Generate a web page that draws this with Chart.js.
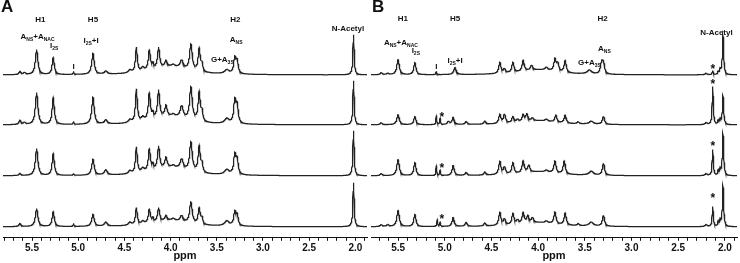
<!DOCTYPE html>
<html><head><meta charset="utf-8">
<script src="https://cdn.jsdelivr.net/npm/chart.js@4.4.0/dist/chart.umd.min.js"></script>
<style>
html,body{margin:0;padding:0;background:#fff;}
#wrap{position:relative;width:740px;height:263px;overflow:hidden;}
.panel{position:absolute;top:0;width:370px;height:263px;}
.letter{position:absolute;top:-3px;font:bold 17px "Liberation Sans",Arial,sans-serif;color:#111;}
</style></head>
<body>
<div id="wrap">
<canvas id="ca" class="panel" width="370" height="263" style="left:0"></canvas>
<canvas id="cb" class="panel" width="370" height="263" style="left:370px"></canvas>
<div class="letter" style="left:1px">A</div>
<div class="letter" style="left:372px">B</div>
</div>
<script>
// ---- data: peak lists [ppm, intensity, half-width(ppm)] ----
const tickLabels = ['5.5','5.0','4.5','4.0','3.5','3.0','2.5','2.0'];
const axisTitle = 'ppm';

const specA1 = [[5.63,3],[5.58,2],[5.45,25,0.016],[5.27,17],[5.05,3,0.005],[4.84,21,0.016],[4.70,3,0.02],
  [4.44,3,0.02],[4.37,25,0.012],[4.30,4,0.02],[4.23,20],[4.19,5,0.01],[4.13,21],[4.05,6,0.015],[3.97,2,0.02],
  [3.88,8,0.02],[3.78,26,0.017],[3.69,23],[3.66,7,0.01],[3.39,4,0.03],[3.305,15],[3.28,12],[4.0,8,0.22],[2.02,40,0.008]];
const specA2 = [[5.63,4],[5.58,2],[5.45,32,0.016],[5.27,27],[5.05,3,0.005],[4.84,27,0.016],[4.70,4,0.02],
  [4.44,3,0.02],[4.37,33,0.012],[4.30,4,0.02],[4.23,27],[4.19,5,0.01],[4.13,28],[4.05,11,0.015],[3.97,2,0.02],
  [3.88,12,0.02],[3.78,33,0.017],[3.69,29],[3.66,9,0.01],[3.39,5,0.03],[3.305,22],[3.28,17],[4.0,8,0.22],[2.02,44,0.008]];
const specA3 = [[5.63,2],[5.45,27,0.016],[5.27,22],[5.05,2,0.005],[4.84,16,0.016],[4.70,5,0.02],
  [4.44,3,0.02],[4.37,26,0.012],[4.30,4,0.02],[4.23,22],[4.19,5,0.01],[4.13,23],[4.05,10,0.015],[3.97,2,0.02],
  [3.88,10,0.02],[3.78,29,0.017],[3.69,26],[3.66,8,0.01],[3.39,5,0.03],[3.305,19],[3.28,14],[4.0,8,0.22],[2.02,45,0.008]];
const specA4 = [[5.63,3],[5.45,18,0.016],[5.27,15],[5.05,3,0.005],[4.84,12,0.016],[4.70,4,0.02],
  [4.44,3,0.02],[4.37,17,0.012],[4.30,3,0.02],[4.23,14],[4.19,4,0.01],[4.13,14],[4.05,5,0.015],[3.97,2,0.02],
  [3.88,6,0.02],[3.78,21,0.017],[3.69,16],[3.66,6,0.01],[3.39,5,0.03],[3.305,13],[3.28,10],[4.0,6,0.22],[2.02,44,0.008]];

const specB1 = [[5.68,2],[5.61,1.5],[5.50,15,0.016],[5.32,12],[5.09,3,0.005],[4.89,7,0.016],
  [4.41,11],[4.36,4],[4.27,10],[4.16,11],[4.07,5],[3.91,3,0.02],[3.82,12],[3.79,8],[3.71,12],[3.45,4,0.03],
  [3.32,11],[3.30,10],[4.0,5,0.24],[2.20,1.5],[2.13,4,0.006],[2.07,3,0.006],[2.05,5,0.006],[2.02,40,0.008]];
const specB2 = [[5.68,2],[5.50,10,0.016],[5.32,8],[5.09,9,0.005],[5.05,6,0.005],[4.96,3],[4.91,7],[4.77,3],[4.57,3],
  [4.41,9],[4.36,9],[4.27,6],[4.22,3],[4.16,7],[4.12,7],[4.06,3],[3.91,2,0.02],[3.81,7],[3.71,8],[3.57,2],[3.43,3,0.03],
  [3.30,8],[4.0,4,0.24],[2.20,2],[2.13,38,0.007],[2.07,4,0.006],[2.05,5,0.006],[2.02,29,0.008]];
const specB3 = [[5.68,2],[5.50,16,0.016],[5.32,13],[5.09,10,0.005],[5.05,5,0.005],[4.91,10],[4.77,3],[4.57,3],
  [4.41,13],[4.36,7],[4.27,11],[4.16,12],[4.10,7],[3.91,2,0.02],[3.82,12],[3.72,13],[3.43,4,0.03],
  [3.30,12],[4.0,4,0.24],[2.20,2],[2.13,26,0.007],[2.07,5,0.006],[2.05,6,0.006],[2.02,42,0.008]];
const specB4 = [[5.68,2],[5.61,2],[5.50,16,0.016],[5.32,12],[5.08,7,0.005],[5.05,4,0.005],[4.91,9],[4.77,4],[4.57,3],
  [4.41,13],[4.36,6],[4.27,11],[4.22,4],[4.16,11],[4.11,7],[4.06,5],[3.91,2,0.02],[3.82,12],[3.71,12],[3.57,2],[3.43,4,0.03],
  [3.30,11],[4.0,4,0.24],[2.20,2],[2.13,20,0.007],[2.07,5,0.006],[2.05,6,0.006],[2.02,41,0.008]];

// ---- rendering ----
const FONT = '"Liberation Sans", Arial, sans-serif';
const OFFSETS = [163, 113, 62, 11];   // vertical stacking of the four traces
const STEP = 0.002;

function spectrum(peaks, offset, lo, hi){
  const pts = [];
  for (let i = 0, p = hi; p >= lo; i++, p = hi - i*STEP){
    let y = 0;
    for (const pk of peaks){ const w = pk[2] || 0.014; const d = (p - pk[0]) / w; y += pk[1] / (1 + d*d); }
    pts.push({x: p, y: y + offset});
  }
  return pts;
}

function drawRich(ctx, parts, x, y, size){
  const sub = Math.round(size*0.62);
  let total = 0;
  for (const [t, s] of parts){ ctx.font = 'bold ' + (s ? sub : size) + 'px ' + FONT; total += ctx.measureText(t).width; }
  let cx = x - total/2;
  ctx.textAlign = 'left'; ctx.textBaseline = 'middle'; ctx.fillStyle = '#111';
  for (const [t, s] of parts){
    ctx.font = 'bold ' + (s ? sub : size) + 'px ' + FONT;
    ctx.fillText(t, cx, s ? y + size*0.38 : y);
    cx += ctx.measureText(t).width;
  }
}

const annotPlugin = {
  id: 'annot',
  afterDatasetsDraw(chart, args, opts){
    const {ctx, scales} = chart;
    ctx.save();
    for (const a of opts.items){
      drawRich(ctx, a.parts, scales.x.getPixelForValue(a.ppm), scales.y.getPixelForValue(a.y), a.size || 8);
    }
    ctx.restore();
  }
};

function makeChart(id, specs, lo, hi, items, padL, padR){
  new Chart(document.getElementById(id), {
    type: 'line',
    data: { datasets: specs.map((pk, i) => ({
      data: spectrum(pk, OFFSETS[i], lo, hi),
      borderColor: '#222', borderWidth: 1.25, pointRadius: 0, fill: false, tension: 0
    })) },
    options: {
      responsive: false, animation: false, events: [],
      layout: { padding: { left: padL, right: padR, top: 0, bottom: 0 } },
      plugins: { legend: { display: false }, tooltip: { enabled: false }, annot: { items } },
      scales: {
        x: {
          type: 'linear', reverse: true, min: lo, max: hi,
          border: { color: '#111', width: 1 },
          grid: { drawOnChartArea: false, drawTicks: true, tickLength: 3, color: '#111' },
          ticks: {
            stepSize: 0.1, autoSkip: false, maxRotation: 0, includeBounds: false, padding: 1,
            color: '#111', font: { family: FONT, size: 10, weight: 'bold' },
            callback: (v) => { const s = (Math.round(v*10)/10).toFixed(1); return tickLabels.includes(s) && Math.abs(v*10 - Math.round(v*10)) < 1e-6 ? s : ''; }
          },
          title: { display: true, text: axisTitle, color: '#111', padding: { top: -5, bottom: 0 },
                   font: { family: FONT, size: 11, weight: 'bold' } }
        },
        y: { display: false, min: 0, max: 238 }
      }
    },
    plugins: [annotPlugin]
  });
}

const itemsA = [
  {ppm: 5.41, y: 218, parts: [['H1',0]]},
  {ppm: 4.84, y: 218, parts: [['H5',0]]},
  {ppm: 3.30, y: 218, parts: [['H2',0]]},
  {ppm: 5.44, y: 201, parts: [['A',0],['NS',1],['+A',0],['NAC',1]]},
  {ppm: 5.26, y: 192, parts: [['I',0],['2S',1]]},
  {ppm: 5.05, y: 171, parts: [['I',0]]},
  {ppm: 4.86, y: 197, parts: [['I',0],['2S',1],['+I',0]]},
  {ppm: 3.44, y: 178, parts: [['G+A',0],['3S',1]]},
  {ppm: 3.29, y: 198, parts: [['A',0],['NS',1]]},
  {ppm: 2.08, y: 209, parts: [['N-Acetyl',0]]}
];
const itemsB = [
  {ppm: 5.45, y: 219, parts: [['H1',0]]},
  {ppm: 4.89, y: 219, parts: [['H5',0]]},
  {ppm: 3.31, y: 219, parts: [['H2',0]]},
  {ppm: 5.47, y: 195, parts: [['A',0],['NS',1],['+A',0],['NAC',1]]},
  {ppm: 5.31, y: 187, parts: [['I',0],['2S',1]]},
  {ppm: 5.09, y: 171, parts: [['I',0]]},
  {ppm: 4.89, y: 177, parts: [['I',0],['2S',1],['+I',0]]},
  {ppm: 3.45, y: 175, parts: [['G+A',0],['3S',1]]},
  {ppm: 3.29, y: 189, parts: [['A',0],['NS',1]]},
  {ppm: 2.09, y: 205, parts: [['N-Acetyl',0]]},
  {ppm: 2.13, y: 168, parts: [['*',0]], size: 12},
  {ppm: 2.13, y: 153, parts: [['*',0]], size: 12},
  {ppm: 2.13, y: 91, parts: [['*',0]], size: 12},
  {ppm: 2.13, y: 39, parts: [['*',0]], size: 12},
  {ppm: 5.03, y: 120, parts: [['*',0]], size: 12},
  {ppm: 5.03, y: 69, parts: [['*',0]], size: 12},
  {ppm: 5.03, y: 18, parts: [['*',0]], size: 12}
];

makeChart('ca', [specA1, specA2, specA3, specA4], 1.874, 5.814, itemsA, 3, 3);
makeChart('cb', [specB1, specB2, specB3, specB4], 1.87, 5.79, itemsB, 1, 3);
</script>
</body></html>
